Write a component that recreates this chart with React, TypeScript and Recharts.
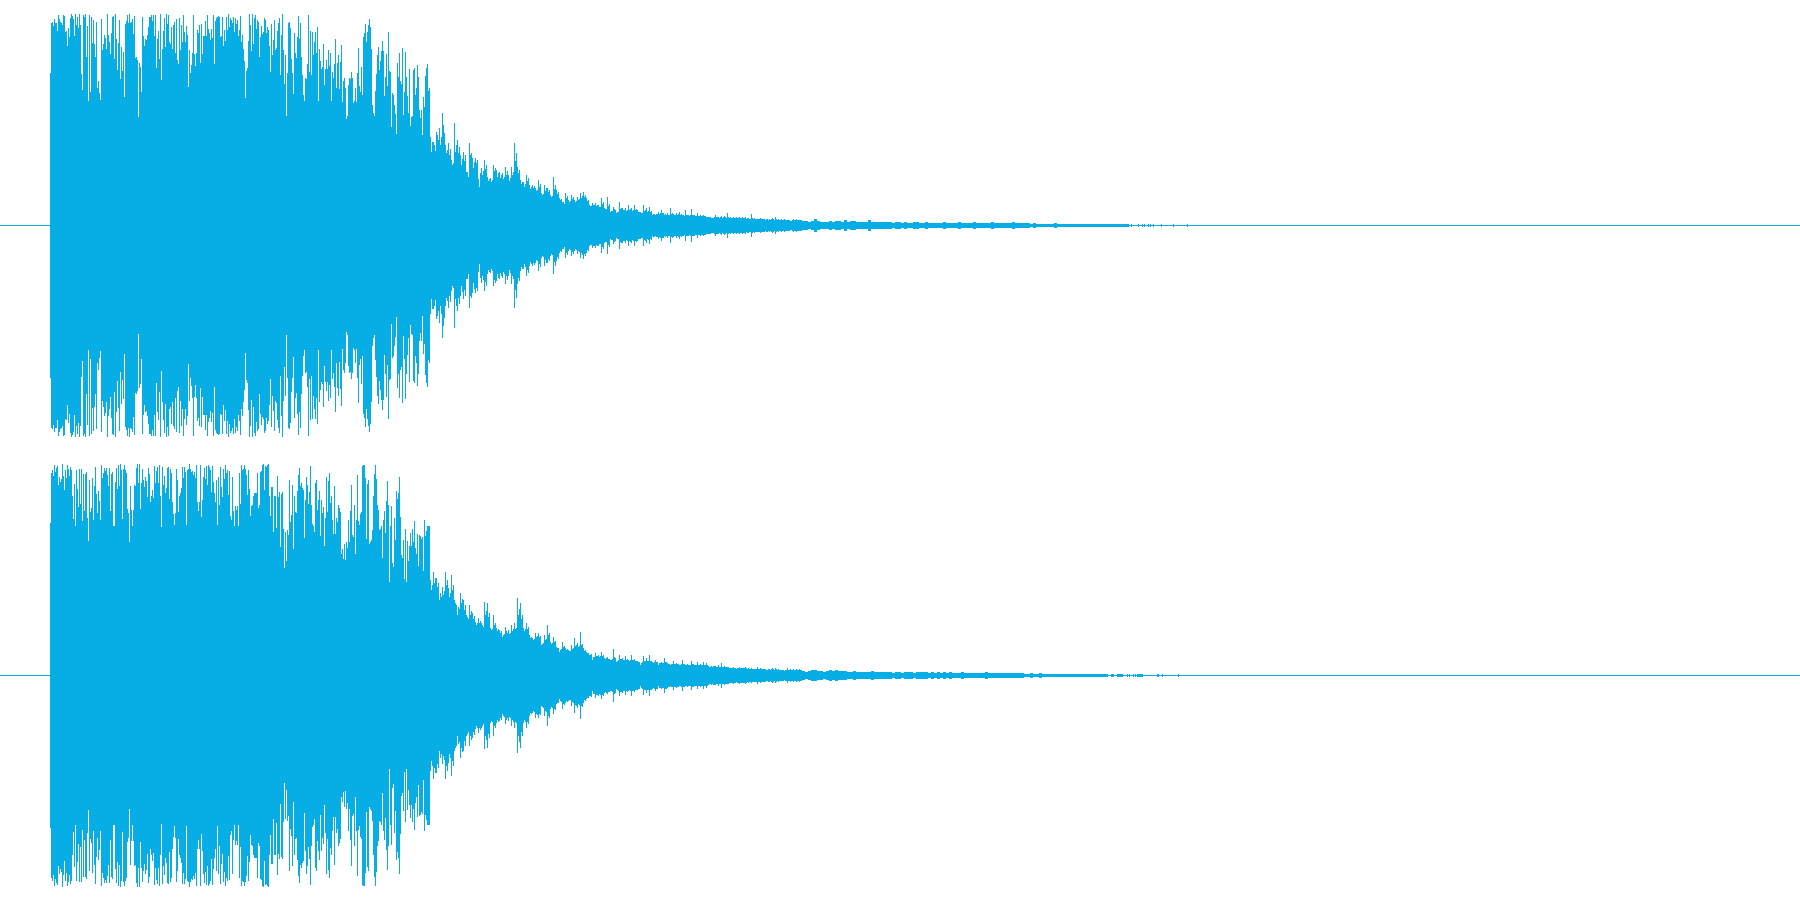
import React from 'react';
import { AreaChart, Area, XAxis, YAxis, ReferenceLine } from 'recharts';

const WAVE_COLOR = '#06aee5';

// Peak level of each column. The wave is drawn as +peak / -peak.
// Head and mid have one value per column, the tail one value per 3 columns.
const HEAD_START = 50;
const MID_START = 430;
const TAIL_START = 802;
const TRACK_END = 1800;

const ch1HeadPeak = [
  152, 202, 203, 199, 206, 202, 202, 194, 210, 206,
  203, 202, 200, 210, 209, 193, 194, 179, 197, 188,
  207, 211, 209, 206, 189, 211, 200, 208, 197, 211,
  200, 151, 135, 210, 208, 211, 168, 199, 124, 210,
  133, 208, 182, 205, 181, 168, 203, 137, 144, 132,
  125, 206, 175, 181, 190, 187, 176, 211, 190, 183,
  171, 192, 208, 209, 166, 211, 186, 155, 182, 205,
  146, 178, 154, 173, 128, 201, 204, 210, 202, 211,
  202, 203, 206, 191, 209, 167, 168, 165, 108, 162,
  158, 133, 208, 189, 179, 186, 185, 190, 198, 208,
  208, 210, 204, 210, 189, 210, 157, 186, 194, 166,
  211, 145, 176, 194, 207, 178, 211, 201, 210, 183,
  181, 198, 176, 200, 203, 172, 206, 165, 161, 207,
  175, 200, 183, 210, 193, 183, 199, 190, 138, 175,
  152, 160, 172, 210, 171, 159, 172, 195, 192, 200,
  162, 201, 171, 189, 189, 204, 189, 210, 196, 192,
  185, 196, 187, 210, 161, 204, 207, 208, 209, 208,
  188, 189, 208, 179, 195, 184, 208, 195, 211, 198,
  207, 205, 202, 208, 193, 207, 201, 205, 189, 195,
  209, 183, 190, 176, 164, 127, 154, 157, 184, 211,
  200, 174, 211, 181, 207, 210, 196, 205, 203, 168,
  188, 199, 191, 193, 207, 205, 192, 198, 195, 179,
  153, 201, 170, 185, 205, 175, 177, 194, 202, 207,
  150, 190, 211, 175, 141, 170, 109, 152, 202, 203,
  197, 166, 152, 131, 192, 172, 167, 188, 209, 186,
  202, 168, 150, 130, 124, 147, 146, 161, 210, 153,
  194, 150, 193, 170, 183, 193, 172, 198, 124, 176,
  164, 156, 158, 181, 140, 156, 165, 156, 175, 159,
  172, 124, 153, 147, 161, 186, 137, 162, 170, 136,
  163, 180, 123, 144, 147, 137, 106, 109, 140, 147,
  146, 153, 147, 122, 124, 137, 123, 152, 177, 139,
  133, 158, 130, 188, 192, 201, 183, 193, 200, 206,
  198, 176, 120, 112, 109, 134, 151, 170, 178, 155,
  164, 174, 184, 174, 129, 148, 171, 139, 193, 154,
  153, 98, 132, 130, 120, 111, 91, 162, 148, 172,
  144, 141, 177, 110, 133, 173, 148, 129, 112, 156,
  99, 108, 109, 155, 157, 130, 137, 160, 148, 115,
  107, 115, 90, 128, 118, 149, 157, 161, 134, 137,
];
const ch1MidPeak = [
  88, 73, 83, 83, 80, 74, 93, 90, 85, 97, 80, 88,
  112, 100, 92, 80, 72, 75, 82, 70, 76, 65, 60, 62,
  102, 73, 80, 85, 72, 78, 70, 60, 66, 73, 64, 70,
  53, 53, 48, 82, 70, 72, 67, 57, 63, 67, 62, 65,
  46, 38, 52, 57, 50, 54, 65, 56, 60, 48, 44, 46,
  47, 43, 45, 60, 54, 57, 55, 48, 52, 53, 47, 50,
  52, 46, 48, 58, 50, 54, 50, 44, 47, 58, 50, 53,
  82, 64, 72, 58, 52, 55, 45, 41, 43, 43, 38, 41,
  50, 44, 47, 40, 36, 38, 40, 37, 39, 37, 34, 35,
  45, 38, 41, 32, 30, 31, 40, 34, 37, 37, 33, 35,
  30, 28, 29, 48, 36, 40, 35, 31, 33, 27, 25, 26,
  23, 23, 21, 32, 27, 29, 25, 23, 24, 30, 26, 28,
  25, 23, 24, 28, 25, 26, 32, 27, 29, 33, 28, 30,
  27, 24, 25, 20, 19, 19, 22, 20, 20, 22, 19, 20,
  20, 18, 18, 27, 21, 23, 17, 16, 16, 28, 19, 21,
  13, 14, 14, 18, 16, 15, 12, 13, 13, 23, 16, 17,
  17, 15, 15, 17, 14, 15, 20, 15, 16, 17, 14, 15,
  20, 15, 16, 15, 13, 13, 13, 12, 12, 20, 14, 15,
  17, 13, 14, 18, 13, 14, 10, 11, 11, 10, 11, 11,
  13, 11, 12, 15, 12, 12, 10, 11, 10, 12, 10, 10,
  17, 11, 12, 11, 10, 10, 12, 10, 11, 13, 10, 11,
  10, 10, 9, 15, 10, 10, 10, 9, 10, 16, 10, 10,
  10, 9, 9, 12, 9, 9, 10, 9, 9, 10, 9, 9,
  8, 8, 8, 8, 8, 7, 7, 7, 8, 10, 8, 8,
  8, 7, 8, 9, 7, 8, 9, 8, 7, 12, 8, 7,
  8, 7, 7, 8, 7, 7, 8, 7, 7, 8, 7, 7,
  8, 7, 7, 8, 6, 7, 7, 6, 6, 11, 7, 6,
  7, 6, 6, 6, 6, 6, 7, 6, 6, 6, 6, 5,
  6, 6, 5, 6, 5, 6, 7, 6, 5, 8, 6, 5,
  6, 5, 5, 6, 5, 5, 6, 5, 5, 5, 5, 5,
  4, 4, 5, 6, 5, 5, 6, 5, 5, 5, 5, 5,
];
const ch1TailPeak = [
  4, 4, 3, 4, 6, 4, 3, 3, 3, 4, 3, 4, 4, 3, 5, 3, 4, 4, 3, 3,
  3, 3, 5, 3, 3, 3, 3, 3, 3, 3, 2, 3, 3, 2, 3, 2, 2, 3, 3, 2,
  2, 3, 2, 2, 2, 2, 2, 3, 2, 2, 2, 2, 3, 2, 2, 2, 2, 3, 2, 2,
  2, 2, 2, 3, 2, 2, 2, 2, 2, 2, 3, 2, 2, 2, 2, 2, 1, 2, 1, 1,
  1, 1, 1, 1, 2, 1, 1, 1, 1, 1, 1, 1, 1, 1, 1, 1, 1, 1, 1, 1,
  1, 1, 1, 1, 1, 1, 1, 1,
];
const ch1Ticks = [1128, 1131, 1138, 1142, 1144, 1148, 1150, 1153, 1161, 1173, 1187];

const ch2HeadPeak = [
  152, 202, 205, 199, 210, 203, 207, 209, 190, 198,
  193, 196, 211, 199, 185, 205, 197, 210, 206, 199,
  208, 205, 179, 156, 191, 149, 205, 186, 168, 206,
  171, 206, 154, 201, 164, 201, 203, 157, 134, 195,
  163, 167, 197, 155, 189, 208, 181, 162, 184, 174,
  155, 210, 197, 202, 207, 204, 207, 200, 189, 207,
  164, 201, 203, 149, 149, 193, 207, 186, 210, 189,
  211, 205, 156, 206, 210, 205, 202, 166, 162, 133,
  189, 165, 149, 165, 190, 189, 207, 211, 192, 211,
  166, 192, 206, 195, 188, 198, 194, 178, 207, 201,
  173, 179, 185, 177, 209, 192, 204, 208, 192, 210,
  179, 148, 208, 190, 199, 182, 187, 207, 208, 176,
  206, 202, 173, 161, 150, 162, 206, 195, 163, 179,
  182, 187, 208, 197, 208, 203, 150, 205, 206, 211,
  206, 203, 204, 200, 203, 197, 210, 173, 164, 173,
  210, 158, 175, 198, 207, 196, 209, 190, 210, 208,
  205, 183, 209, 193, 182, 173, 195, 150, 198, 170,
  208, 188, 178, 206, 196, 210, 202, 205, 180, 204,
  159, 155, 198, 164, 149, 169, 165, 169, 149, 202,
  171, 210, 205, 206, 210, 206, 200, 180, 205, 186,
  159, 169, 170, 179, 182, 182, 182, 202, 167, 170,
  203, 204, 210, 211, 185, 209, 208, 210, 211, 179,
  159, 188, 188, 143, 179, 179, 147, 199, 178, 183,
  128, 181, 183, 146, 107, 143, 114, 145, 140, 195,
  153, 160, 190, 126, 179, 163, 162, 184, 200, 207,
  189, 192, 187, 185, 137, 175, 198, 190, 171, 183,
  209, 170, 151, 149, 143, 192, 195, 165, 175, 184,
  139, 175, 162, 168, 129, 157, 198, 163, 194, 202,
  172, 179, 155, 141, 189, 141, 157, 153, 170, 167,
  163, 121, 126, 116, 131, 115, 133, 127, 155, 133,
  164, 190, 140, 138, 170, 121, 155, 200, 154, 150,
  161, 163, 209, 210, 210, 197, 136, 191, 195, 131,
  133, 135, 145, 179, 201, 210, 196, 170, 165, 145,
  146, 149, 117, 155, 164, 142, 174, 194, 170, 93,
  149, 169, 112, 108, 157, 135, 184, 176, 182, 198,
  158, 120, 117, 135, 96, 146, 93, 134, 114, 129,
  142, 129, 146, 133, 154, 127, 121, 141, 109, 140,
  139, 136, 138, 104, 155, 139, 144, 149, 149, 149,
];
const ch2MidPeak = [
  95, 85, 90, 103, 92, 97, 97, 88, 92, 75, 82, 78,
  88, 80, 84, 103, 90, 95, 87, 78, 82, 100, 85, 90,
  75, 72, 70, 60, 68, 66, 82, 72, 76, 75, 65, 70,
  60, 58, 56, 70, 60, 64, 62, 56, 59, 53, 50, 52,
  57, 52, 54, 52, 50, 48, 73, 60, 64, 72, 58, 62,
  47, 45, 46, 60, 50, 52, 47, 44, 46, 45, 42, 44,
  38, 40, 41, 48, 44, 42, 45, 41, 42, 50, 44, 46,
  52, 46, 47, 77, 60, 66, 72, 56, 60, 47, 44, 46,
  52, 46, 48, 40, 37, 38, 37, 35, 36, 42, 38, 39,
  42, 38, 39, 30, 31, 32, 40, 35, 36, 50, 40, 42,
  33, 31, 32, 38, 33, 34, 28, 27, 27, 23, 25, 26,
  33, 28, 29, 27, 25, 26, 25, 24, 24, 30, 26, 27,
  37, 29, 30, 32, 28, 29, 43, 30, 31, 27, 24, 25,
  23, 22, 22, 20, 20, 21, 15, 18, 18, 22, 19, 19,
  20, 18, 19, 23, 19, 20, 17, 16, 17, 18, 16, 16,
  15, 15, 16, 26, 18, 17, 13, 14, 15, 20, 16, 16,
  17, 15, 15, 19, 15, 16, 15, 14, 15, 20, 15, 15,
  16, 14, 14, 14, 13, 13, 10, 12, 13, 19, 14, 14,
  17, 14, 14, 20, 14, 14, 13, 12, 13, 15, 13, 13,
  10, 12, 12, 13, 12, 12, 17, 13, 13, 12, 11, 11,
  10, 11, 11, 14, 11, 11, 12, 11, 11, 10, 10, 11,
  15, 11, 11, 10, 10, 11, 10, 10, 10, 14, 11, 11,
  10, 10, 10, 13, 10, 10, 11, 10, 10, 13, 10, 10,
  12, 10, 9, 8, 8, 9, 8, 9, 9, 9, 8, 8,
  10, 8, 8, 12, 8, 8, 9, 8, 8, 8, 8, 7,
  7, 7, 7, 8, 7, 7, 6, 7, 7, 8, 7, 7,
  7, 7, 7, 8, 7, 6, 7, 6, 6, 7, 6, 6,
  6, 6, 6, 8, 6, 6, 7, 6, 6, 6, 6, 6,
  5, 5, 6, 6, 5, 6, 7, 6, 5, 7, 6, 5,
  6, 5, 5, 5, 5, 5, 4, 5, 5, 7, 5, 5,
  6, 5, 5, 6, 5, 5, 6, 5, 5, 6, 5, 5,
];
const ch2TailPeak = [
  4, 3, 4, 5, 5, 4, 4, 3, 4, 5, 4, 5, 4, 4, 4, 3, 3, 4, 3, 3,
  3, 3, 3, 4, 3, 3, 3, 3, 3, 3, 2, 3, 3, 2, 3, 3, 3, 2, 3, 3,
  3, 3, 2, 3, 2, 3, 2, 3, 2, 3, 2, 2, 2, 3, 2, 2, 2, 2, 2, 2,
  2, 3, 2, 2, 2, 2, 2, 2, 2, 2, 2, 2, 2, 2, 1, 1, 2, 1, 1, 2,
  1, 1, 1, 1, 1, 1, 1, 1, 1, 1, 1, 1, 1, 1, 1, 1, 1, 1, 1, 1,
  1, 1, 0, 1, 0, 1, 1, 0,
];
const ch2Ticks = [1127, 1129, 1133, 1135, 1137, 1138, 1139, 1140, 1141, 1142, 1157, 1158, 1162, 1178];

const columns = (peaks: number[], start: number, step: number) =>
  peaks.map((p, i) => ({ x: start + i * step, range: [-(p + 1), p] }));

// single columns sticking out of the flat end of the track
const tickColumns = (ticks: number[]) =>
  ticks.flatMap(x => [
    { x, range: [-2, 1] },
    { x: x + 1, range: [-1, 0] },
  ]);

const ch1Data = [
  ...columns(ch1HeadPeak, HEAD_START, 1),
  ...columns(ch1MidPeak, MID_START, 1),
  ...columns(ch1TailPeak, TAIL_START, 3),
  ...tickColumns(ch1Ticks),
];
const ch2Data = [
  ...columns(ch2HeadPeak, HEAD_START, 1),
  ...columns(ch2MidPeak, MID_START, 1),
  ...columns(ch2TailPeak, TAIL_START, 3),
  ...tickColumns(ch2Ticks),
];

const Track = ({ data }: { data: { x: number; range: number[] }[] }) => (
  <AreaChart width={1800} height={450} data={data} margin={{ top: 0, right: 0, bottom: 0, left: 0 }}>
    <XAxis dataKey="x" type="number" domain={[0, TRACK_END]} hide />
    <YAxis type="number" domain={[-225, 225]} hide />
    <ReferenceLine y={-0.5} stroke={WAVE_COLOR} strokeWidth={1} />
    <Area
      dataKey="range"
      type="stepAfter"
      fill={WAVE_COLOR}
      fillOpacity={1}
      stroke="none"
      dot={false}
      activeDot={false}
      isAnimationActive={false}
    />
  </AreaChart>
);

export default function App() {
  return (
    <div style={{ position: 'absolute', left: 0, top: 0, width: 1800, height: 900, background: '#fff' }}>
      <Track data={ch1Data} />
      <Track data={ch2Data} />
    </div>
  );
}
